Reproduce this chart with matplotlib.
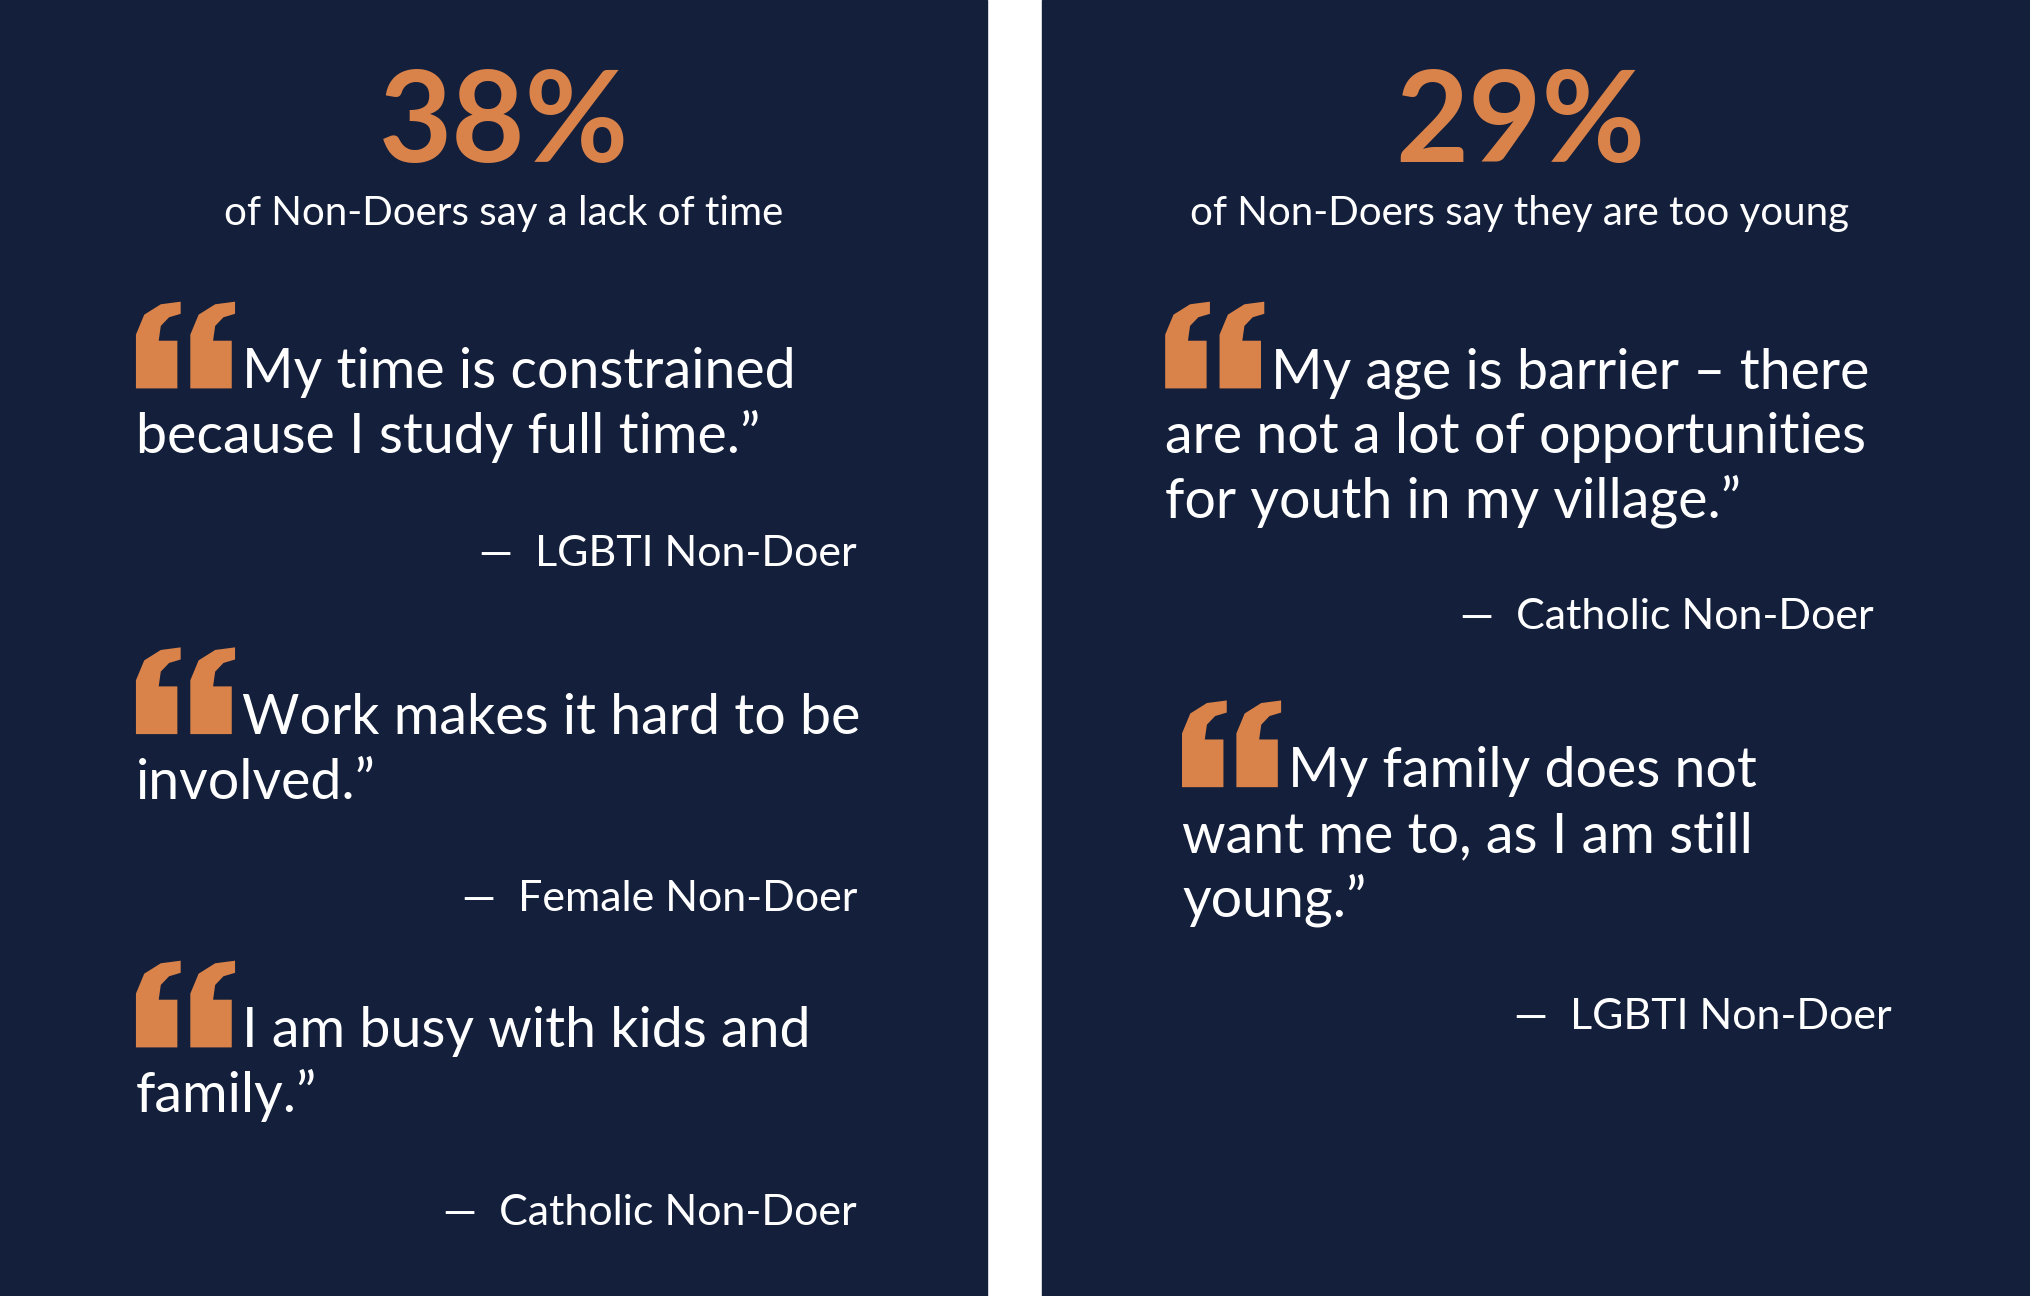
import matplotlib
matplotlib.use("Agg")
import matplotlib.pyplot as plt
from matplotlib.patches import Rectangle, Polygon

NAVY = "#131f3b"
ORANGE = "#d9824a"
FONT = "Lato"

headline_values = ["38%", "29%"]
headline_subtitles = ["of Non-Doers say a lack of time", "of Non-Doers say they are too young"]
panel_centers = [389, 1174]

# quotes: (mark_x, mark_top, lines, attribution, attr_right, attr_baseline)
quotes = [
    (105, 233, ["My time is constrained", "because I study full time.\u201d"], "\u2014  LGBTI Non-Doer", 662, 437),
    (105, 500, ["Work makes it hard to be", "involved.\u201d"], "\u2014  Female Non-Doer", 662, 704),
    (105, 742, ["I am busy with kids and", "family.\u201d"], "\u2014  Catholic Non-Doer", 662, 946),
    (900, 233, ["My age is barrier \u2013 there", "are not a lot of opportunities", "for youth in my village.\u201d"], "\u2014  Catholic Non-Doer", 1447, 486),
    (913, 541, ["My family does not", "want me to, as I am still", "young.\u201d"], "\u2014  LGBTI Non-Doer", 1461, 795),
]

W, H = 1568, 1001
fig = plt.figure(figsize=(20.3, 12.96), dpi=100)
fig.patch.set_facecolor("white")
ax = fig.add_axes([0, 0, 1, 1])
ax.set_xlim(0, W)
ax.set_ylim(H, 0)
ax.axis("off")

ax.add_patch(Rectangle((0, 0), 762, H, color=NAVY))
ax.add_patch(Rectangle((805, 0), W - 805, H, color=NAVY))

for cx, val, sub in zip(panel_centers, headline_values, headline_subtitles):
    ax.text(cx, 125, val, color=ORANGE, fontsize=91, fontweight="bold", family=FONT,
            ha="center", va="baseline")
    ax.text(cx, 174, sub, color="white", fontsize=29, family=FONT, ha="center", va="baseline")


def quote_mark(x0, top):
    w, h = 32, 67
    pts = [(0, 0), (1, 0), (1, 0.55), (0.55, 0.55), (0.6, 0.72), (0.8, 0.82), (1.08, 0.86),
           (1.08, 1.0), (0.6, 0.97), (0.2, 0.85), (0, 0.62)]
    for off in (0, 42):
        poly = [(x0 + off + px * w, top + h - py * h) for px, py in pts]
        ax.add_patch(Polygon(poly, closed=True, color=ORANGE, lw=0))


for mx, mtop, lines, attr, ax_r, ab in quotes:
    quote_mark(mx, mtop)
    base = mtop + 67
    for i, line in enumerate(lines):
        x = mx + 82 if i == 0 else mx
        ax.text(x, base + i * 50, line, color="white", fontsize=40, family=FONT,
                ha="left", va="baseline")
    ax.text(ax_r, ab, attr, color="white", fontsize=31, family=FONT, ha="right", va="baseline")

fig.savefig("out.png", dpi=100, facecolor=fig.get_facecolor())
